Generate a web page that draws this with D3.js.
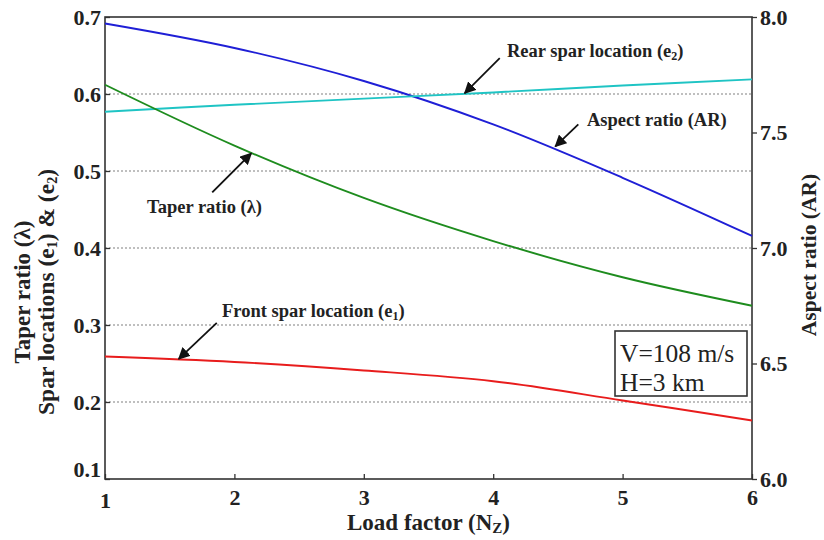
<!DOCTYPE html>
<html><head><meta charset="utf-8">
<script src="https://cdn.jsdelivr.net/npm/d3@7"></script>
<style>
body{margin:0;background:#fff;}
text{font-family:"Liberation Serif","Times New Roman",serif;font-weight:bold;fill:#222;}
</style></head>
<body><svg id="chart" width="824" height="540"></svg>
<script>
// ---- data ----
const loadFactor = [1, 2, 3, 4, 5, 6];
const aspectRatio = [7.972, 7.866, 7.723, 7.535, 7.304, 7.052];   // right axis
const taperRatio  = [0.612, 0.533, 0.465, 0.409, 0.362, 0.325];   // left axis
const rearSpar    = [0.577, 0.586, 0.594, 0.602, 0.611, 0.619];   // left axis
const frontSpar   = [0.259, 0.252, 0.241, 0.227, 0.202, 0.176];   // left axis
const xTicks = [1, 2, 3, 4, 5, 6];
const leftTicks = [0.1, 0.2, 0.3, 0.4, 0.5, 0.6, 0.7];
const rightTicks = [6.0, 6.5, 7.0, 7.5, 8.0];

const svg = d3.select("#chart");
const m = {l:105, r:752, t:17, b:479};
const x = d3.scaleLinear().domain([1,6]).range([m.l, m.r]);
const yL = d3.scaleLinear().domain([0.1,0.7]).range([m.b, m.t]);
const yR = d3.scaleLinear().domain([6,8]).range([m.b, m.t]);

// gridlines
svg.append("g").selectAll("line").data(leftTicks.filter(d=>d>0.1&&d<0.7)).join("line")
  .attr("x1", m.l).attr("x2", m.r).attr("y1", d=>yL(d)).attr("y2", d=>yL(d))
  .attr("stroke","#808080").attr("stroke-width",1.2).attr("stroke-dasharray","2,2");

// axes
const fmt1 = d3.format(".1f");
const gx = svg.append("g").attr("transform",`translate(0,${m.b})`)
  .call(d3.axisBottom(x).tickValues(xTicks).tickFormat(d3.format("d")).tickSizeInner(-5).tickSizeOuter(0).tickPadding(7));
const gl = svg.append("g").attr("transform",`translate(${m.l},0)`)
  .call(d3.axisLeft(yL).tickValues(leftTicks).tickFormat(fmt1).tickSizeInner(-5).tickSizeOuter(0).tickPadding(4));
const gr = svg.append("g").attr("transform",`translate(${m.r},0)`)
  .call(d3.axisRight(yR).tickValues(rightTicks).tickFormat(fmt1).tickSizeInner(5).tickSizeOuter(0).tickPadding(3));
[gx,gl,gr].forEach(g=>{
  g.select(".domain").remove();
  g.selectAll("line").attr("stroke","#333").attr("stroke-width",1.3);
  g.selectAll("text").style("font-size","22px").attr("fill","#222");
});
gx.selectAll("text").attr("dy","0.85em");
gl.selectAll(".tick").filter(d=>d===0.1).select("text").attr("dy","-0.1em");
gx.selectAll(".tick").filter(d=>d===1).select("text").attr("dy","1.0em");

// frame
svg.append("rect").attr("x",m.l).attr("y",m.t).attr("width",m.r-m.l).attr("height",m.b-m.t)
  .attr("fill","none").attr("stroke","#333").attr("stroke-width",1.6);

// series
const series = [
  {vals: aspectRatio, y: yR, color:"#1f1fd6"},
  {vals: rearSpar,    y: yL, color:"#1fc4c4"},
  {vals: taperRatio,  y: yL, color:"#1e8c1e"},
  {vals: frontSpar,   y: yL, color:"#e81c1c"}
];
series.forEach(s=>{
  const line = d3.line().x((d,i)=>x(loadFactor[i])).y(d=>s.y(d)).curve(d3.curveCatmullRom.alpha(0.5));
  svg.append("path").datum(s.vals).attr("d",line).attr("fill","none")
    .attr("stroke",s.color).attr("stroke-width",1.9);
});

// arrow marker
svg.append("defs").append("marker").attr("id","ah").attr("viewBox","0 0 10 10")
  .attr("refX",9).attr("refY",5).attr("markerWidth",12).attr("markerHeight",12)
  .attr("markerUnits","userSpaceOnUse").attr("orient","auto")
  .append("path").attr("d","M0,0L10,5L0,10z").attr("fill","#111");

// annotations: head on curve (data coords), tail & label offsets in px
const annotations = [
  {lab:["Rear spar location (e","2",")"], hx:3.78, hy:0.601, axis:yL, dx:35, dy:-35, tx:507, ty:51},
  {lab:["Aspect ratio (AR)"], hx:4.48, hy:7.44, axis:yR, dx:23, dy:-22, tx:587, ty:120},
  {lab:["Taper ratio (λ)"], hx:2.13, hy:0.523, axis:yL, dx:-39, dy:39, tx:147, ty:207},
  {lab:["Front spar location (e","1",")"], hx:1.57, hy:0.256, axis:yL, dx:38, dy:-36, tx:222, ty:311}
];
annotations.forEach(a=>{
  const hx = x(a.hx), hy = a.axis(a.hy);
  svg.append("line").attr("x1",hx+a.dx).attr("y1",hy+a.dy).attr("x2",hx).attr("y2",hy)
    .attr("stroke","#111").attr("stroke-width",1.8).attr("marker-end","url(#ah)");
  const t = svg.append("text").attr("x",a.tx).attr("y",a.ty).attr("dy","0.35em").style("font-size","18.5px");
  t.append("tspan").text(a.lab[0]);
  if(a.lab.length>1){
    t.append("tspan").text(a.lab[1]).style("font-size","12px").attr("dy","3");
    t.append("tspan").text(a.lab[2]).attr("dy","-3");
  }
});

// condition box
svg.append("rect").attr("x",615).attr("y",331).attr("width",132).attr("height",65)
  .attr("fill","#fff").attr("stroke","#333").attr("stroke-width",1.6);
svg.append("text").attr("x",620).attr("y",353).attr("dy","0.35em").style("font-size","25.5px").style("font-weight","normal").attr("fill","#111").text("V=108 m/s");
svg.append("text").attr("x",620).attr("y",382).attr("dy","0.35em").style("font-size","25.5px").style("font-weight","normal").attr("fill","#111").text("H=3 km");

// axis titles
const xt = svg.append("text").attr("x",(m.l+m.r)/2).attr("y",522).attr("dy","0.35em")
  .attr("text-anchor","middle").style("font-size","23px");
xt.append("tspan").text("Load factor (N");
xt.append("tspan").text("Z").style("font-size","15px").attr("dy","3");
xt.append("tspan").text(")").attr("dy","-3");

svg.append("text").attr("transform","translate(22,292) rotate(-90)").attr("dy","0.35em")
  .attr("text-anchor","middle").style("font-size","23px").text("Taper ratio (λ)");
const lt = svg.append("text").attr("transform","translate(46,292) rotate(-90)").attr("dy","0.35em")
  .attr("text-anchor","middle").style("font-size","23.5px");
lt.append("tspan").text("Spar locations (e");
lt.append("tspan").text("1").style("font-size","14px").attr("dy","3");
lt.append("tspan").text(") & (e").attr("dy","-3");
lt.append("tspan").text("2").style("font-size","14px").attr("dy","3");
lt.append("tspan").text(")").attr("dy","-3");

svg.append("text").attr("transform","translate(808,255) rotate(-90)").attr("dy","0.35em")
  .attr("text-anchor","middle").style("font-size","21.5px").text("Aspect ratio (AR)");
</script></body></html>
